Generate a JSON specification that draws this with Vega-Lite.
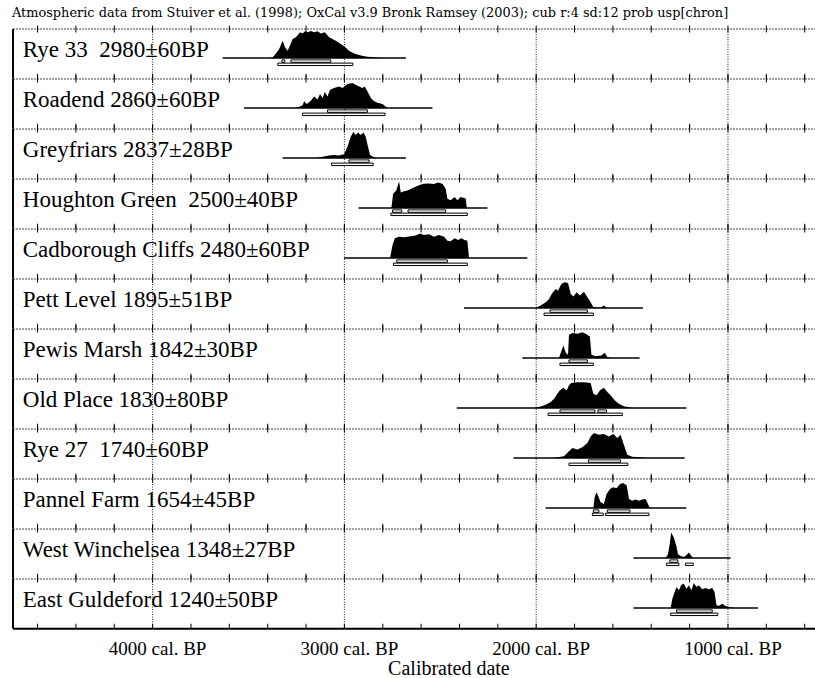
{
  "$schema": "https://vega.github.io/schema/vega-lite/v6.json",
  "padding": {"left": 12, "top": 7, "right": 0, "bottom": 52},
  "bounds": "flush",
  "background": "white",
  "title": {"text": "Atmospheric data from Stuiver et al. (1998); OxCal v3.9 Bronk Ramsey (2003); cub r:4 sd:12 prob usp[chron]", "anchor": "start", "font": "DejaVu Serif", "fontSize": 12.9, "fontWeight": "normal", "color": "black", "offset": 5.5},
  "datasets": {
    "ticks": [{"v":4600},{"v":4400},{"v":4200},{"v":4000},{"v":3800},{"v":3600},{"v":3400},{"v":3200},{"v":3000},{"v":2800},{"v":2600},{"v":2400},{"v":2200},{"v":2000},{"v":1800},{"v":1600},{"v":1400},{"v":1200},{"v":1000},{"v":800},{"v":600}],
    "main": [
      {"k":"l","s":1,"t":"Rye 33\u00a0 2980±60BP"},
      {"k":"l","s":2,"t":"\u00a0Roadend 2860±60BP"},
      {"k":"l","s":3,"t":"Greyfriars 2837±28BP"},
      {"k":"l","s":4,"t":"Houghton Green\u00a0 2500±40BP"},
      {"k":"l","s":5,"t":"Cadborough Cliffs 2480±60BP"},
      {"k":"l","s":6,"t":"Pett Level 1895±51BP"},
      {"k":"l","s":7,"t":"Pewis Marsh 1842±30BP"},
      {"k":"l","s":8,"t":"Old Place 1830±80BP"},
      {"k":"l","s":9,"t":"Rye 27\u00a0 1740±60BP"},
      {"k":"l","s":10,"t":"Pannel Farm 1654±45BP"},
      {"k":"l","s":11,"t":"West Winchelsea 1348±27BP"},
      {"k":"l","s":12,"t":"East Guldeford 1240±50BP"},
      {"k":"ax","s":12,"v":4000,"t":"4000 cal. BP"},
      {"k":"ax","s":12,"v":3000,"t":"3000 cal. BP"},
      {"k":"ax","s":12,"v":2000,"t":"2000 cal. BP"},
      {"k":"ax","s":12,"v":1000,"t":"1000 cal. BP"},
      {"k":"at","s":12,"t":"Calibrated date"},
      {"k":"e","s":1,"a":3635,"b":2680},
      {"k":"e","s":2,"a":3523,"b":2541},
      {"k":"e","s":3,"a":3322,"b":2680},
      {"k":"e","s":4,"a":2926,"b":2254},
      {"k":"e","s":5,"a":3002,"b":2046},
      {"k":"e","s":6,"a":2376,"b":1443},
      {"k":"e","s":7,"a":2072,"b":1461},
      {"k":"e","s":8,"a":2414,"b":1217},
      {"k":"e","s":9,"a":2119,"b":1226},
      {"k":"e","s":10,"a":1951,"b":1217},
      {"k":"e","s":11,"a":1493,"b":986},
      {"k":"e","s":12,"a":1493,"b":844},
      {"k":"r68","s":1,"a":3326,"b":3311},{"k":"r68","s":1,"a":3279,"b":3071},{"k":"r95","s":1,"a":3347,"b":2956},
      {"k":"r68","s":2,"a":3088,"b":2880},{"k":"r95","s":2,"a":3218,"b":2788},
      {"k":"r68","s":3,"a":2976,"b":2871},{"k":"r95","s":3,"a":3067,"b":2850},
      {"k":"r68","s":4,"a":2749,"b":2701},{"k":"r68","s":4,"a":2668,"b":2472},{"k":"r95","s":4,"a":2758,"b":2359},
      {"k":"r68","s":5,"a":2727,"b":2463},{"k":"r95","s":5,"a":2744,"b":2359},
      {"k":"r68","s":6,"a":1928,"b":1733},{"k":"r95","s":6,"a":1959,"b":1702},
      {"k":"r68","s":7,"a":1829,"b":1733},{"k":"r95","s":7,"a":1876,"b":1702},
      {"k":"r68","s":8,"a":1876,"b":1694},{"k":"r68","s":8,"a":1678,"b":1633},{"k":"r95","s":8,"a":1938,"b":1551},
      {"k":"r68","s":9,"a":1728,"b":1560},{"k":"r95","s":9,"a":1829,"b":1522},
      {"k":"r68","s":10,"a":1702,"b":1673},{"k":"r68","s":10,"a":1629,"b":1511},{"k":"r95","s":10,"a":1707,"b":1650},{"k":"r95","s":10,"a":1638,"b":1412},
      {"k":"r68","s":11,"a":1303,"b":1261},{"k":"r95","s":11,"a":1320,"b":1256},{"k":"r95","s":11,"a":1221,"b":1181},
      {"k":"r68","s":12,"a":1268,"b":1082},{"k":"r95","s":12,"a":1299,"b":1053},
      {"k":"d","s":1,"x":3394,"p":0},{"k":"d","s":1,"x":3375,"p":2},{"k":"d","s":1,"x":3357,"p":17},{"k":"d","s":1,"x":3340,"p":33},{"k":"d","s":1,"x":3322,"p":64},{"k":"d","s":1,"x":3310,"p":40},{"k":"d","s":1,"x":3296,"p":27},{"k":"d","s":1,"x":3284,"p":46},{"k":"d","s":1,"x":3270,"p":70},{"k":"d","s":1,"x":3253,"p":77},{"k":"d","s":1,"x":3241,"p":87},{"k":"d","s":1,"x":3231,"p":95},{"k":"d","s":1,"x":3218,"p":91},{"k":"d","s":1,"x":3206,"p":99},{"k":"d","s":1,"x":3192,"p":95},{"k":"d","s":1,"x":3175,"p":100},{"k":"d","s":1,"x":3158,"p":95},{"k":"d","s":1,"x":3140,"p":99},{"k":"d","s":1,"x":3123,"p":91},{"k":"d","s":1,"x":3102,"p":95},{"k":"d","s":1,"x":3080,"p":77},{"k":"d","s":1,"x":3062,"p":70},{"k":"d","s":1,"x":3045,"p":64},{"k":"d","s":1,"x":3019,"p":52},{"k":"d","s":1,"x":2998,"p":42},{"k":"d","s":1,"x":2976,"p":27},{"k":"d","s":1,"x":2949,"p":17},{"k":"d","s":1,"x":2915,"p":9},{"k":"d","s":1,"x":2880,"p":5},{"k":"d","s":1,"x":2845,"p":3},{"k":"d","s":1,"x":2810,"p":0},
      {"k":"d","s":2,"x":3264,"p":0},{"k":"d","s":2,"x":3244,"p":2},{"k":"d","s":2,"x":3218,"p":10},{"k":"d","s":2,"x":3210,"p":25},{"k":"d","s":2,"x":3196,"p":15},{"k":"d","s":2,"x":3175,"p":27},{"k":"d","s":2,"x":3158,"p":43},{"k":"d","s":2,"x":3140,"p":31},{"k":"d","s":2,"x":3127,"p":52},{"k":"d","s":2,"x":3114,"p":37},{"k":"d","s":2,"x":3102,"p":59},{"k":"d","s":2,"x":3088,"p":43},{"k":"d","s":2,"x":3075,"p":68},{"k":"d","s":2,"x":3054,"p":74},{"k":"d","s":2,"x":3028,"p":80},{"k":"d","s":2,"x":3010,"p":74},{"k":"d","s":2,"x":2984,"p":89},{"k":"d","s":2,"x":2958,"p":93},{"k":"d","s":2,"x":2941,"p":86},{"k":"d","s":2,"x":2923,"p":80},{"k":"d","s":2,"x":2906,"p":74},{"k":"d","s":2,"x":2894,"p":80},{"k":"d","s":2,"x":2880,"p":62},{"k":"d","s":2,"x":2862,"p":37},{"k":"d","s":2,"x":2845,"p":25},{"k":"d","s":2,"x":2828,"p":19},{"k":"d","s":2,"x":2801,"p":15},{"k":"d","s":2,"x":2784,"p":5},{"k":"d","s":2,"x":2775,"p":0},
      {"k":"d","s":3,"x":3175,"p":0},{"k":"d","s":3,"x":3140,"p":1},{"k":"d","s":3,"x":3080,"p":9},{"k":"d","s":3,"x":3054,"p":11},{"k":"d","s":3,"x":3028,"p":9},{"k":"d","s":3,"x":3002,"p":14},{"k":"d","s":3,"x":2984,"p":42},{"k":"d","s":3,"x":2967,"p":79},{"k":"d","s":3,"x":2953,"p":97},{"k":"d","s":3,"x":2941,"p":85},{"k":"d","s":3,"x":2929,"p":94},{"k":"d","s":3,"x":2915,"p":85},{"k":"d","s":3,"x":2901,"p":94},{"k":"d","s":3,"x":2889,"p":79},{"k":"d","s":3,"x":2877,"p":42},{"k":"d","s":3,"x":2866,"p":11},{"k":"d","s":3,"x":2845,"p":3},{"k":"d","s":3,"x":2828,"p":0},
      {"k":"d","s":4,"x":2755,"p":0},{"k":"d","s":4,"x":2746,"p":53},{"k":"d","s":4,"x":2729,"p":66},{"k":"d","s":4,"x":2715,"p":99},{"k":"d","s":4,"x":2706,"p":57},{"k":"d","s":4,"x":2689,"p":62},{"k":"d","s":4,"x":2668,"p":66},{"k":"d","s":4,"x":2645,"p":74},{"k":"d","s":4,"x":2623,"p":81},{"k":"d","s":4,"x":2605,"p":86},{"k":"d","s":4,"x":2585,"p":90},{"k":"d","s":4,"x":2559,"p":91},{"k":"d","s":4,"x":2533,"p":89},{"k":"d","s":4,"x":2512,"p":94},{"k":"d","s":4,"x":2489,"p":90},{"k":"d","s":4,"x":2472,"p":71},{"k":"d","s":4,"x":2463,"p":34},{"k":"d","s":4,"x":2446,"p":29},{"k":"d","s":4,"x":2425,"p":41},{"k":"d","s":4,"x":2411,"p":29},{"k":"d","s":4,"x":2394,"p":41},{"k":"d","s":4,"x":2376,"p":37},{"k":"d","s":4,"x":2367,"p":34},{"k":"d","s":4,"x":2362,"p":0},
      {"k":"d","s":5,"x":2762,"p":0},{"k":"d","s":5,"x":2749,"p":48},{"k":"d","s":5,"x":2737,"p":73},{"k":"d","s":5,"x":2715,"p":79},{"k":"d","s":5,"x":2689,"p":77},{"k":"d","s":5,"x":2654,"p":81},{"k":"d","s":5,"x":2628,"p":83},{"k":"d","s":5,"x":2606,"p":91},{"k":"d","s":5,"x":2585,"p":85},{"k":"d","s":5,"x":2559,"p":88},{"k":"d","s":5,"x":2533,"p":79},{"k":"d","s":5,"x":2507,"p":85},{"k":"d","s":5,"x":2480,"p":79},{"k":"d","s":5,"x":2463,"p":64},{"k":"d","s":5,"x":2446,"p":62},{"k":"d","s":5,"x":2425,"p":73},{"k":"d","s":5,"x":2407,"p":67},{"k":"d","s":5,"x":2390,"p":73},{"k":"d","s":5,"x":2373,"p":67},{"k":"d","s":5,"x":2359,"p":64},{"k":"d","s":5,"x":2350,"p":0},
      {"k":"d","s":6,"x":2003,"p":0},{"k":"d","s":6,"x":1977,"p":9},{"k":"d","s":6,"x":1950,"p":21},{"k":"d","s":6,"x":1933,"p":33},{"k":"d","s":6,"x":1916,"p":56},{"k":"d","s":6,"x":1898,"p":70},{"k":"d","s":6,"x":1886,"p":64},{"k":"d","s":6,"x":1869,"p":89},{"k":"d","s":6,"x":1852,"p":95},{"k":"d","s":6,"x":1834,"p":93},{"k":"d","s":6,"x":1820,"p":52},{"k":"d","s":6,"x":1806,"p":43},{"k":"d","s":6,"x":1789,"p":58},{"k":"d","s":6,"x":1772,"p":46},{"k":"d","s":6,"x":1751,"p":60},{"k":"d","s":6,"x":1733,"p":40},{"k":"d","s":6,"x":1716,"p":21},{"k":"d","s":6,"x":1702,"p":4},{"k":"d","s":6,"x":1664,"p":1},{"k":"d","s":6,"x":1647,"p":9},{"k":"d","s":6,"x":1633,"p":1},{"k":"d","s":6,"x":1622,"p":0},
      {"k":"d","s":7,"x":1881,"p":0},{"k":"d","s":7,"x":1869,"p":25},{"k":"d","s":7,"x":1858,"p":46},{"k":"d","s":7,"x":1846,"p":19},{"k":"d","s":7,"x":1834,"p":12},{"k":"d","s":7,"x":1829,"p":86},{"k":"d","s":7,"x":1811,"p":93},{"k":"d","s":7,"x":1785,"p":90},{"k":"d","s":7,"x":1759,"p":95},{"k":"d","s":7,"x":1742,"p":90},{"k":"d","s":7,"x":1720,"p":80},{"k":"d","s":7,"x":1712,"p":12},{"k":"d","s":7,"x":1690,"p":6},{"k":"d","s":7,"x":1660,"p":9},{"k":"d","s":7,"x":1643,"p":19},{"k":"d","s":7,"x":1629,"p":4},{"k":"d","s":7,"x":1612,"p":0},
      {"k":"d","s":8,"x":2029,"p":0},{"k":"d","s":8,"x":2003,"p":1},{"k":"d","s":8,"x":1968,"p":7},{"k":"d","s":8,"x":1945,"p":14},{"k":"d","s":8,"x":1924,"p":22},{"k":"d","s":8,"x":1907,"p":34},{"k":"d","s":8,"x":1890,"p":53},{"k":"d","s":8,"x":1876,"p":66},{"k":"d","s":8,"x":1858,"p":75},{"k":"d","s":8,"x":1841,"p":66},{"k":"d","s":8,"x":1829,"p":84},{"k":"d","s":8,"x":1817,"p":93},{"k":"d","s":8,"x":1785,"p":95},{"k":"d","s":8,"x":1751,"p":95},{"k":"d","s":8,"x":1716,"p":93},{"k":"d","s":8,"x":1702,"p":53},{"k":"d","s":8,"x":1685,"p":47},{"k":"d","s":8,"x":1667,"p":66},{"k":"d","s":8,"x":1647,"p":75},{"k":"d","s":8,"x":1629,"p":59},{"k":"d","s":8,"x":1612,"p":47},{"k":"d","s":8,"x":1591,"p":29},{"k":"d","s":8,"x":1569,"p":16},{"k":"d","s":8,"x":1543,"p":6},{"k":"d","s":8,"x":1516,"p":3},{"k":"d","s":8,"x":1492,"p":0},
      {"k":"d","s":9,"x":1951,"p":0},{"k":"d","s":9,"x":1907,"p":1},{"k":"d","s":9,"x":1855,"p":6},{"k":"d","s":9,"x":1829,"p":25},{"k":"d","s":9,"x":1811,"p":37},{"k":"d","s":9,"x":1785,"p":31},{"k":"d","s":9,"x":1759,"p":40},{"k":"d","s":9,"x":1733,"p":56},{"k":"d","s":9,"x":1716,"p":80},{"k":"d","s":9,"x":1699,"p":93},{"k":"d","s":9,"x":1673,"p":86},{"k":"d","s":9,"x":1647,"p":89},{"k":"d","s":9,"x":1621,"p":80},{"k":"d","s":9,"x":1598,"p":89},{"k":"d","s":9,"x":1577,"p":74},{"k":"d","s":9,"x":1560,"p":86},{"k":"d","s":9,"x":1543,"p":49},{"k":"d","s":9,"x":1525,"p":12},{"k":"d","s":9,"x":1499,"p":5},{"k":"d","s":9,"x":1455,"p":3},{"k":"d","s":9,"x":1424,"p":0},
      {"k":"d","s":10,"x":1702,"p":0},{"k":"d","s":10,"x":1695,"p":40},{"k":"d","s":10,"x":1686,"p":58},{"k":"d","s":10,"x":1674,"p":40},{"k":"d","s":10,"x":1664,"p":21},{"k":"d","s":10,"x":1647,"p":15},{"k":"d","s":10,"x":1633,"p":52},{"k":"d","s":10,"x":1615,"p":70},{"k":"d","s":10,"x":1598,"p":77},{"k":"d","s":10,"x":1581,"p":73},{"k":"d","s":10,"x":1563,"p":89},{"k":"d","s":10,"x":1546,"p":93},{"k":"d","s":10,"x":1528,"p":83},{"k":"d","s":10,"x":1516,"p":33},{"k":"d","s":10,"x":1499,"p":27},{"k":"d","s":10,"x":1482,"p":31},{"k":"d","s":10,"x":1464,"p":27},{"k":"d","s":10,"x":1447,"p":31},{"k":"d","s":10,"x":1429,"p":33},{"k":"d","s":10,"x":1417,"p":15},{"k":"d","s":10,"x":1407,"p":0},
      {"k":"d","s":11,"x":1325,"p":0},{"k":"d","s":11,"x":1313,"p":14},{"k":"d","s":11,"x":1304,"p":51},{"k":"d","s":11,"x":1296,"p":94},{"k":"d","s":11,"x":1282,"p":75},{"k":"d","s":11,"x":1269,"p":44},{"k":"d","s":11,"x":1261,"p":14},{"k":"d","s":11,"x":1247,"p":7},{"k":"d","s":11,"x":1230,"p":4},{"k":"d","s":11,"x":1216,"p":11},{"k":"d","s":11,"x":1204,"p":20},{"k":"d","s":11,"x":1191,"p":7},{"k":"d","s":11,"x":1181,"p":0},
      {"k":"d","s":12,"x":1299,"p":0},{"k":"d","s":12,"x":1290,"p":34},{"k":"d","s":12,"x":1278,"p":59},{"k":"d","s":12,"x":1268,"p":78},{"k":"d","s":12,"x":1256,"p":66},{"k":"d","s":12,"x":1243,"p":86},{"k":"d","s":12,"x":1230,"p":90},{"k":"d","s":12,"x":1216,"p":71},{"k":"d","s":12,"x":1204,"p":84},{"k":"d","s":12,"x":1191,"p":66},{"k":"d","s":12,"x":1178,"p":93},{"k":"d","s":12,"x":1164,"p":78},{"k":"d","s":12,"x":1152,"p":84},{"k":"d","s":12,"x":1134,"p":69},{"k":"d","s":12,"x":1117,"p":74},{"k":"d","s":12,"x":1100,"p":69},{"k":"d","s":12,"x":1082,"p":74},{"k":"d","s":12,"x":1070,"p":59},{"k":"d","s":12,"x":1060,"p":10},{"k":"d","s":12,"x":1048,"p":7},{"k":"d","s":12,"x":1030,"p":16},{"k":"d","s":12,"x":1013,"p":7},{"k":"d","s":12,"x":986,"p":3},{"k":"d","s":12,"x":960,"p":0}
    ]
  },
  "data": {"name": "main"},
  "facet": {"row": {"field": "s", "type": "ordinal", "header": null}},
  "spacing": 0,
  "spec": {
    "width": 803,
    "height": 49.75,
    "layer": [
      {"data": {"name": "ticks"}, "transform": [{"filter": "datum.v % 1000 == 0"}],
       "mark": {"type": "rule", "stroke": "#222", "strokeWidth": 1, "strokeDash": [1, 1.5]},
       "encoding": {"x": {"field": "v", "type": "quantitative", "scale": {"domain": [541, 4728], "reverse": true, "nice": false, "zero": false}, "axis": null}}},
      {"transform": [{"filter": "datum.k == 'l'"}],
       "mark": {"type": "rule", "stroke": "#444", "strokeWidth": 1, "strokeDash": [2, 1]},
       "encoding": {"y": {"datum": 107.4, "scale": {"domain": [-76.9, 107.4], "nice": false, "zero": false}, "axis": null}}},
      {"data": {"name": "ticks"},
       "mark": {"type": "tick", "orient": "vertical", "size": 7, "thickness": 1, "color": "black", "opacity": 1},
       "encoding": {"x": {"field": "v", "type": "quantitative", "axis": null}, "y": {"datum": 107.4, "axis": null}}},
      {"data": {"name": "ticks"},
       "mark": {"type": "tick", "orient": "vertical", "size": 5, "thickness": 1, "color": "black", "opacity": 1},
       "encoding": {"x": {"field": "v", "type": "quantitative", "axis": null}, "y": {"datum": -67.6, "axis": null}}},
      {"transform": [{"filter": "datum.k == 'l'"}],
       "mark": {"type": "rule", "stroke": "black", "strokeWidth": 2},
       "encoding": {"x": {"datum": 4728, "axis": null}}},
      {"transform": [{"filter": "datum.k == 'at'"}],
       "mark": {"type": "rule", "stroke": "black", "strokeWidth": 2},
       "encoding": {"y": {"datum": -76.9, "axis": null}}},
      {"transform": [{"filter": "datum.k == 'e'"}],
       "mark": {"type": "rule", "stroke": "black", "strokeWidth": 1.7},
       "encoding": {"x": {"field": "a", "type": "quantitative", "axis": null}, "x2": {"field": "b"}, "y": {"datum": 0, "axis": null}}},
      {"transform": [{"filter": "datum.k == 'd'"}],
       "mark": {"type": "area", "color": "black", "orient": "vertical", "interpolate": "linear"},
       "encoding": {
         "x": {"field": "x", "type": "quantitative", "scale": {"domain": [541, 4728], "reverse": true, "nice": false, "zero": false}, "axis": null},
         "y": {"field": "p", "type": "quantitative", "scale": {"domain": [-76.9, 107.4], "nice": false, "zero": false}, "axis": null},
         "y2": {"datum": 0}}},
      {"transform": [{"filter": "datum.k == 'r68'"}],
       "mark": {"type": "rect", "fill": "white", "stroke": "black", "strokeWidth": 1},
       "encoding": {"x": {"field": "a", "type": "quantitative", "axis": null}, "x2": {"field": "b"}, "y": {"datum": -7, "axis": null}, "y2": {"datum": -16}}},
      {"transform": [{"filter": "datum.k == 'r95'"}],
       "mark": {"type": "rect", "fill": "white", "stroke": "black", "strokeWidth": 1},
       "encoding": {"x": {"field": "a", "type": "quantitative", "axis": null}, "x2": {"field": "b"}, "y": {"datum": -19, "axis": null}, "y2": {"datum": -28}}},
      {"transform": [{"filter": "datum.k == 'l'"}],
       "mark": {"type": "text", "font": "Liberation Serif", "fontSize": 23, "align": "left", "baseline": "alphabetic", "color": "black"},
       "encoding": {"x": {"datum": 4677, "axis": null}, "y": {"datum": 2, "axis": null}, "text": {"field": "t"}}},
      {"transform": [{"filter": "datum.k == 'ax'"}],
       "mark": {"type": "text", "font": "Liberation Serif", "fontSize": 19, "align": "center", "baseline": "middle", "color": "black", "dx": 5},
       "encoding": {"x": {"field": "v", "type": "quantitative", "axis": null}, "y": {"datum": -152.8, "axis": null}, "text": {"field": "t"}}},
      {"transform": [{"filter": "datum.k == 'at'"}],
       "mark": {"type": "text", "font": "Liberation Serif", "fontSize": 20, "align": "center", "baseline": "middle", "color": "black"},
       "encoding": {"x": {"datum": 2455, "axis": null}, "y": {"datum": -225.1, "axis": null}, "text": {"field": "t"}}}
    ]
  },
  "config": {"view": {"stroke": null}}
}
